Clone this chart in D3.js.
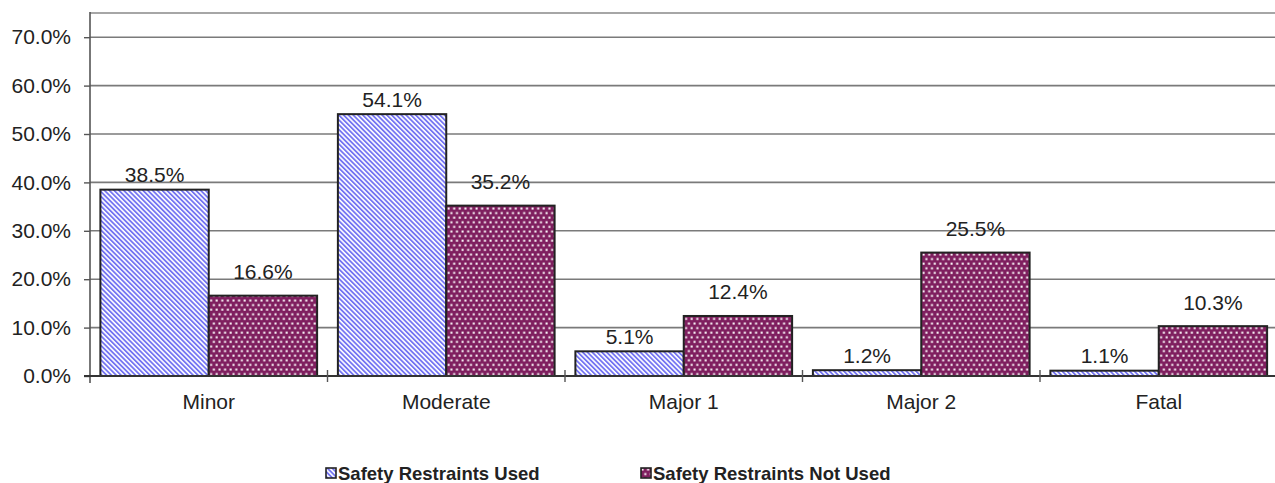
<!DOCTYPE html>
<html lang="en">
<head>
<meta charset="utf-8">
<title>Injury severity by restraint use</title>
<script src="https://d3js.org/d3.v7.min.js"></script>
<style>
  body { margin: 0; background: #fff; }
  text { font-family: "Liberation Sans", Arial, sans-serif; fill: #222; }
</style>
</head>
<body>
<script>
// data
var categories = ["Minor", "Moderate", "Major 1", "Major 2", "Fatal"];
var seriesNames = ["Safety Restraints Used", "Safety Restraints Not Used"];
var usedValues = [38.5, 54.1, 5.1, 1.2, 1.1];
var notUsedValues = [16.6, 35.2, 12.4, 25.5, 10.3];
var yTicks = [0, 10, 20, 30, 40, 50, 60, 70];

var w = 1275, h = 483;
var plotLeft = 90, plotTop = 13, plotBottom = 376, plotRight = 1277.5;

var svg = d3.select("body").append("svg")
  .attr("width", w).attr("height", h);

// fill patterns
var defs = svg.append("defs");
var stripes = defs.append("pattern")
  .attr("id", "stripes")
  .attr("patternUnits", "userSpaceOnUse")
  .attr("width", 3.4).attr("height", 3.4)
  .attr("patternTransform", "rotate(-45)");
stripes.append("rect").attr("width", 3.4).attr("height", 3.4).attr("fill", "#fff");
stripes.append("rect").attr("width", 1.8).attr("height", 3.4).attr("fill", "#7474f2");

var dots = defs.append("pattern")
  .attr("id", "dots")
  .attr("patternUnits", "userSpaceOnUse")
  .attr("width", 5.6).attr("height", 9.2);
dots.append("rect").attr("width", 5.6).attr("height", 9.2).attr("fill", "#7f1f5f");
dots.append("rect").attr("x", 0.5).attr("y", 0.5).attr("width", 2).attr("height", 2).attr("fill", "#fff");
dots.append("rect").attr("x", 3.3).attr("y", 5.1).attr("width", 2).attr("height", 2).attr("fill", "#fff");

var fills = ["url(#stripes)", "url(#dots)"];

// scales
var y = d3.scaleLinear().domain([0, 75]).range([plotBottom, plotTop]);
var x0 = d3.scaleBand().domain(categories).range([plotLeft, plotRight])
  .paddingInner(0.0875).paddingOuter(0.04375);
var x1 = d3.scaleBand().domain([0, 1]).range([0, x0.bandwidth()]);

// top border + gridlines
svg.append("line")
  .attr("x1", plotLeft).attr("x2", w).attr("y1", y(75)).attr("y2", y(75))
  .attr("stroke", "#a6a6a6").attr("stroke-width", 2);

svg.selectAll(".grid")
  .data(yTicks.filter(function(d) { return d > 0; }))
  .enter().append("line")
  .attr("class", "grid")
  .attr("x1", plotLeft).attr("x2", w)
  .attr("y1", function(d) { return y(d); })
  .attr("y2", function(d) { return y(d); })
  .attr("stroke", "#7a7a7a").attr("stroke-width", 1.6);

// y axis
var yAxis = svg.append("g")
  .attr("transform", "translate(" + plotLeft + ",0)")
  .call(d3.axisLeft(y).tickValues(yTicks).tickSize(6).tickPadding(13)
    .tickFormat(function(d) { return d.toFixed(1) + "%"; }));
yAxis.select(".domain").remove();
yAxis.selectAll(".tick line").attr("stroke", "#555").attr("stroke-width", 1.4);
yAxis.selectAll(".tick text")
  .style("font-family", "'Liberation Sans', Arial, sans-serif")
  .style("font-size", "21px").attr("fill", "#222");
svg.append("line")
  .attr("x1", plotLeft).attr("x2", plotLeft).attr("y1", plotTop - 1).attr("y2", plotBottom + 7)
  .attr("stroke", "#555").attr("stroke-width", 1.6);

// bars
var groups = svg.selectAll(".cat")
  .data(categories)
  .enter().append("g")
  .attr("class", "cat")
  .attr("transform", function(d) { return "translate(" + x0(d) + ",0)"; });

groups.selectAll("rect")
  .data(function(d, i) { return [usedValues[i], notUsedValues[i]]; })
  .enter().append("rect")
  .attr("x", function(d, j) { return x1(j); })
  .attr("y", function(d) { return y(d); })
  .attr("width", x1.bandwidth())
  .attr("height", function(d) { return y(0) - y(d); })
  .attr("fill", function(d, j) { return fills[j]; })
  .attr("stroke", "#222").attr("stroke-width", 2);

// value labels
var labelGap = [15, 24];
groups.selectAll(".val")
  .data(function(d, i) { return [usedValues[i], notUsedValues[i]]; })
  .enter().append("text")
  .attr("class", "val")
  .attr("x", function(d, j) { return x1(j) + x1.bandwidth() / 2; })
  .attr("y", function(d, j) { return y(d) - labelGap[j]; })
  .attr("text-anchor", "middle")
  .attr("dominant-baseline", "central")
  .style("font-size", "21px")
  .text(function(d) { return d.toFixed(1) + "%"; });

// baseline + category ticks
svg.append("line")
  .attr("x1", plotLeft - 6).attr("x2", w).attr("y1", plotBottom).attr("y2", plotBottom)
  .attr("stroke", "#333").attr("stroke-width", 1.8);

var step = x0.step();
svg.selectAll(".ctick")
  .data(d3.range(1, categories.length))
  .enter().append("line")
  .attr("class", "ctick")
  .attr("x1", function(k) { return plotLeft + k * step; })
  .attr("x2", function(k) { return plotLeft + k * step; })
  .attr("y1", plotBottom - 6).attr("y2", plotBottom + 6)
  .attr("stroke", "#555").attr("stroke-width", 1.4);

svg.selectAll(".cat-label")
  .data(categories)
  .enter().append("text")
  .attr("class", "cat-label")
  .attr("x", function(d) { return x0(d) + x0.bandwidth() / 2; })
  .attr("y", 401)
  .attr("text-anchor", "middle")
  .attr("dominant-baseline", "central")
  .style("font-size", "21px")
  .text(function(d) { return d; });

// legend
var legendX = [326, 641];
var legend = svg.selectAll(".legend")
  .data(seriesNames)
  .enter().append("g")
  .attr("class", "legend")
  .attr("transform", function(d, i) { return "translate(" + legendX[i] + ",468)"; });

legend.append("rect")
  .attr("width", 10).attr("height", 10)
  .attr("fill", function(d, i) { return fills[i]; })
  .attr("stroke", "#222").attr("stroke-width", 1.6);

legend.append("text")
  .attr("x", 12).attr("y", 5.5)
  .attr("dominant-baseline", "central")
  .style("font-size", "18.5px").style("font-weight", "bold")
  .text(function(d) { return d; });
</script>
</body>
</html>
